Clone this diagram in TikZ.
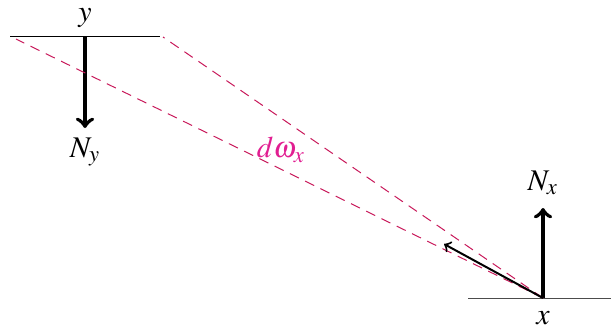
\documentclass[tikz,border=0pt]{standalone}
\usepackage{mathptmx}
\usepackage{fontspec}
\setmainfont{Liberation Serif}
\usepackage{xcolor}
\usetikzlibrary{arrows,positioning,calc}
\definecolor{raycol}{RGB}{200,25,90}
\definecolor{anglecol}{RGB}{225,30,145}
\tikzset{
  surface/.style={draw,line width=0.4pt},
  normal/.style={->,line width=1.6pt},
  ray/.style={dash pattern=on 4pt off 2.8pt,raycol,line width=0.4pt},
  lbl/.style={inner sep=1pt,font=\fontsize{12}{14}\selectfont}
}

\begin{document}
\begin{tikzpicture}[x=0.4pt,y=-0.4pt]
\useasboundingbox (0,0) rectangle (611,335);
% patch y (top) and patch x (bottom)
\coordinate (ypt) at (85,36);
\coordinate (xpt) at (543,298);
\coordinate (yleft) at (10,36);
\coordinate (yright) at (160,36);
\coordinate (xleft) at (468,298);
\coordinate (xright) at (611,298);
\draw[surface] (yleft) -- (yright);
\draw[surface,black!70] (xleft) -- (xright);
\node[lbl] (ylab) at (85,18) {$y$};
\node[lbl] (xlab) at (543,318) {$x$};

% normals
\coordinate (nyend) at (85,128);
\coordinate (nxend) at (543,208);
\draw[normal] (ypt) -- (nyend);
\draw[normal] (xpt) -- (nxend);
\node[lbl] (nylab) at (85,152) {$N_y$};
\node[lbl] (nxlab) at (543,183) {$N_x$};

% solid angle cone
\coordinate (coneA) at (16,39);
\coordinate (coneB) at (163,37);
\draw[ray] (xpt) -- (coneA);
\draw[ray] (xpt) -- (coneB);
\coordinate (dirend) at (444,244);
\draw[->,line width=0.8pt] (xpt) -- (dirend);
\node[lbl,text=anglecol] (dw) at (281,150) {$d\omega_x$};
\end{tikzpicture}
\end{document}
